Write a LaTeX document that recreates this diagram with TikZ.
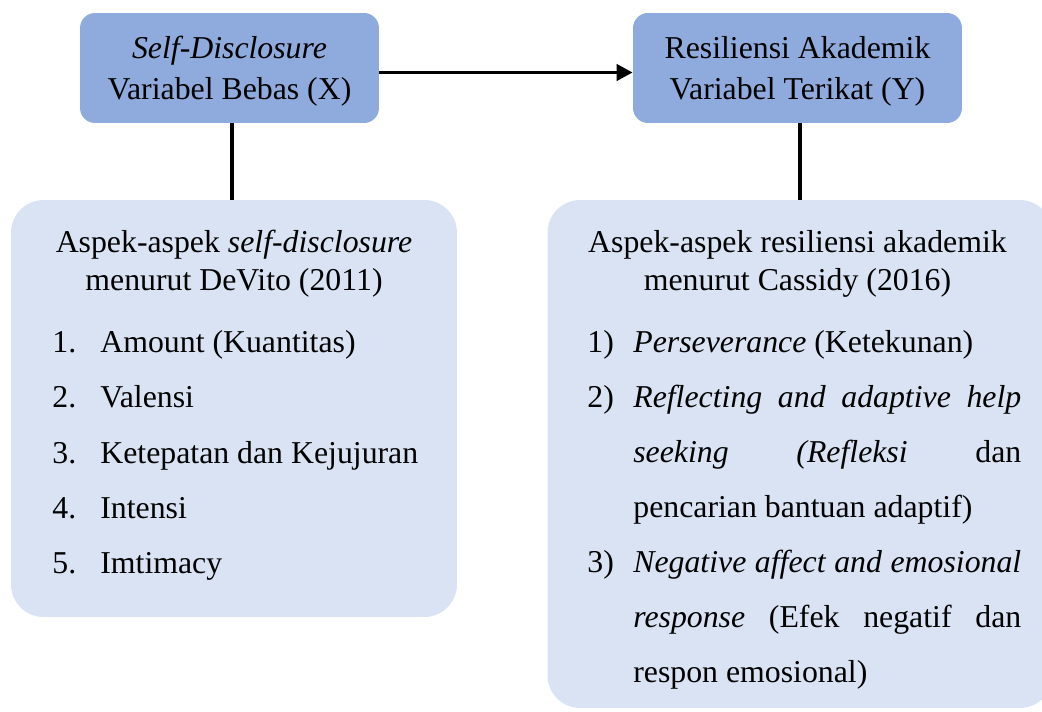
\documentclass[tikz,border=0pt]{standalone}
\usepackage{fontspec}
\setmainfont{Liberation Serif}
\usepackage{tikz}
\usetikzlibrary{arrows.meta}

\definecolor{varblue}{RGB}{143,170,220}
\definecolor{aspblue}{RGB}{218,227,243}

\begin{document}
\begin{tikzpicture}[x=0.02cm, y=-0.02cm,
		font=\fontsize{18.1}{23.3}\selectfont,
		var_style/.style={rounded corners=0.3cm,fill=varblue,align=center,inner sep=0pt},
		asp_style/.style={rounded corners=0.65cm,fill=aspblue,inner sep=0pt},
		title_style/.style={anchor=base,inner sep=0pt},
		item_style/.style={anchor=base west,inner sep=0pt},
		edge_style/.style={draw=black,line width=2.2pt},
		arrow_style/.style={edge_style,-{Triangle[length=0.32cm,width=0.32cm]}}]
		
		\useasboundingbox (0,0) rectangle (1042,711);
		\clip (0,0) rectangle (1042,711);
		
		\node[var_style,minimum width=5.98cm,minimum height=2.2cm] (varX) at (229.5,68) {\rule{0pt}{0.56cm}\textit{Self-Disclosure}\\Variabel Bebas (X)};
		\node[var_style,minimum width=6.58cm,minimum height=2.2cm] (varY) at (797.5,68) {\rule{0pt}{0.56cm}Resiliensi Akademik\\Variabel Terikat (Y)};
		\node[asp_style,minimum width=8.92cm,minimum height=8.34cm] (aspX) at (234,408.5) {};
		\node[asp_style,minimum width=10.1cm,minimum height=10.16cm] (aspY) at (800,454) {};
		
		\draw[arrow_style] ([yshift=-0.09cm]varX.east) -- ([yshift=-0.09cm]varY.west);
		\draw[edge_style] ([xshift=0.05cm]varX.south) -- ([xshift=0.05cm]varX.south |- aspX.north);
		\draw[edge_style] ([xshift=0.05cm]varY.south) -- ([xshift=0.05cm]varY.south |- aspY.north);
		
		\node[title_style] (tX1) at (234,252) {Aspek-aspek \textit{self-disclosure}};
		\node[title_style] (tX2) at (234,290) {menurut DeVito (2011)};
		\node[item_style] (nX1) at (52,352) {1.};
		\node[item_style] (iX1) at (100,352) {Amount (Kuantitas)};
		\node[item_style] (nX2) at (52,407) {2.};
		\node[item_style] (iX2) at (100,407) {Valensi};
		\node[item_style] (nX3) at (52,463) {3.};
		\node[item_style] (iX3) at (100,463) {Ketepatan dan Kejujuran};
		\node[item_style] (nX4) at (52,518) {4.};
		\node[item_style] (iX4) at (100,518) {Intensi};
		\node[item_style] (nX5) at (52,573) {5.};
		\node[item_style] (iX5) at (100,573) {Imtimacy};
		
		\node[title_style] (tY1) at (797.5,252) {Aspek-aspek resiliensi akademik};
		\node[title_style] (tY2) at (797.5,290) {menurut Cassidy (2016)};
		\node[item_style] (nY1) at (587,352) {1)};
		\node[item_style] (iY1) at (633,352) {\textit{Perseverance} (Ketekunan)};
		\node[item_style] (nY2) at (587,407) {2)};
		\node[item_style] (iY2a) at (633,407) {\makebox[7.76cm][s]{\textit{Reflecting and adaptive help}}};
		\node[item_style] (iY2b) at (633,462) {\makebox[7.76cm][s]{\textit{seeking} \textit{(Refleksi} dan}};
		\node[item_style] (iY2c) at (633,517) {pencarian bantuan adaptif)};
		\node[item_style] (nY3) at (587,572) {3)};
		\node[item_style] (iY3a) at (633,572) {\makebox[7.76cm][s]{\textit{Negative affect and emosional}}};
		\node[item_style] (iY3b) at (633,627) {\makebox[7.76cm][s]{\textit{response} (Efek negatif dan}};
		\node[item_style] (iY3c) at (633,682) {respon emosional)};
		
		\end{tikzpicture}
\end{document}
